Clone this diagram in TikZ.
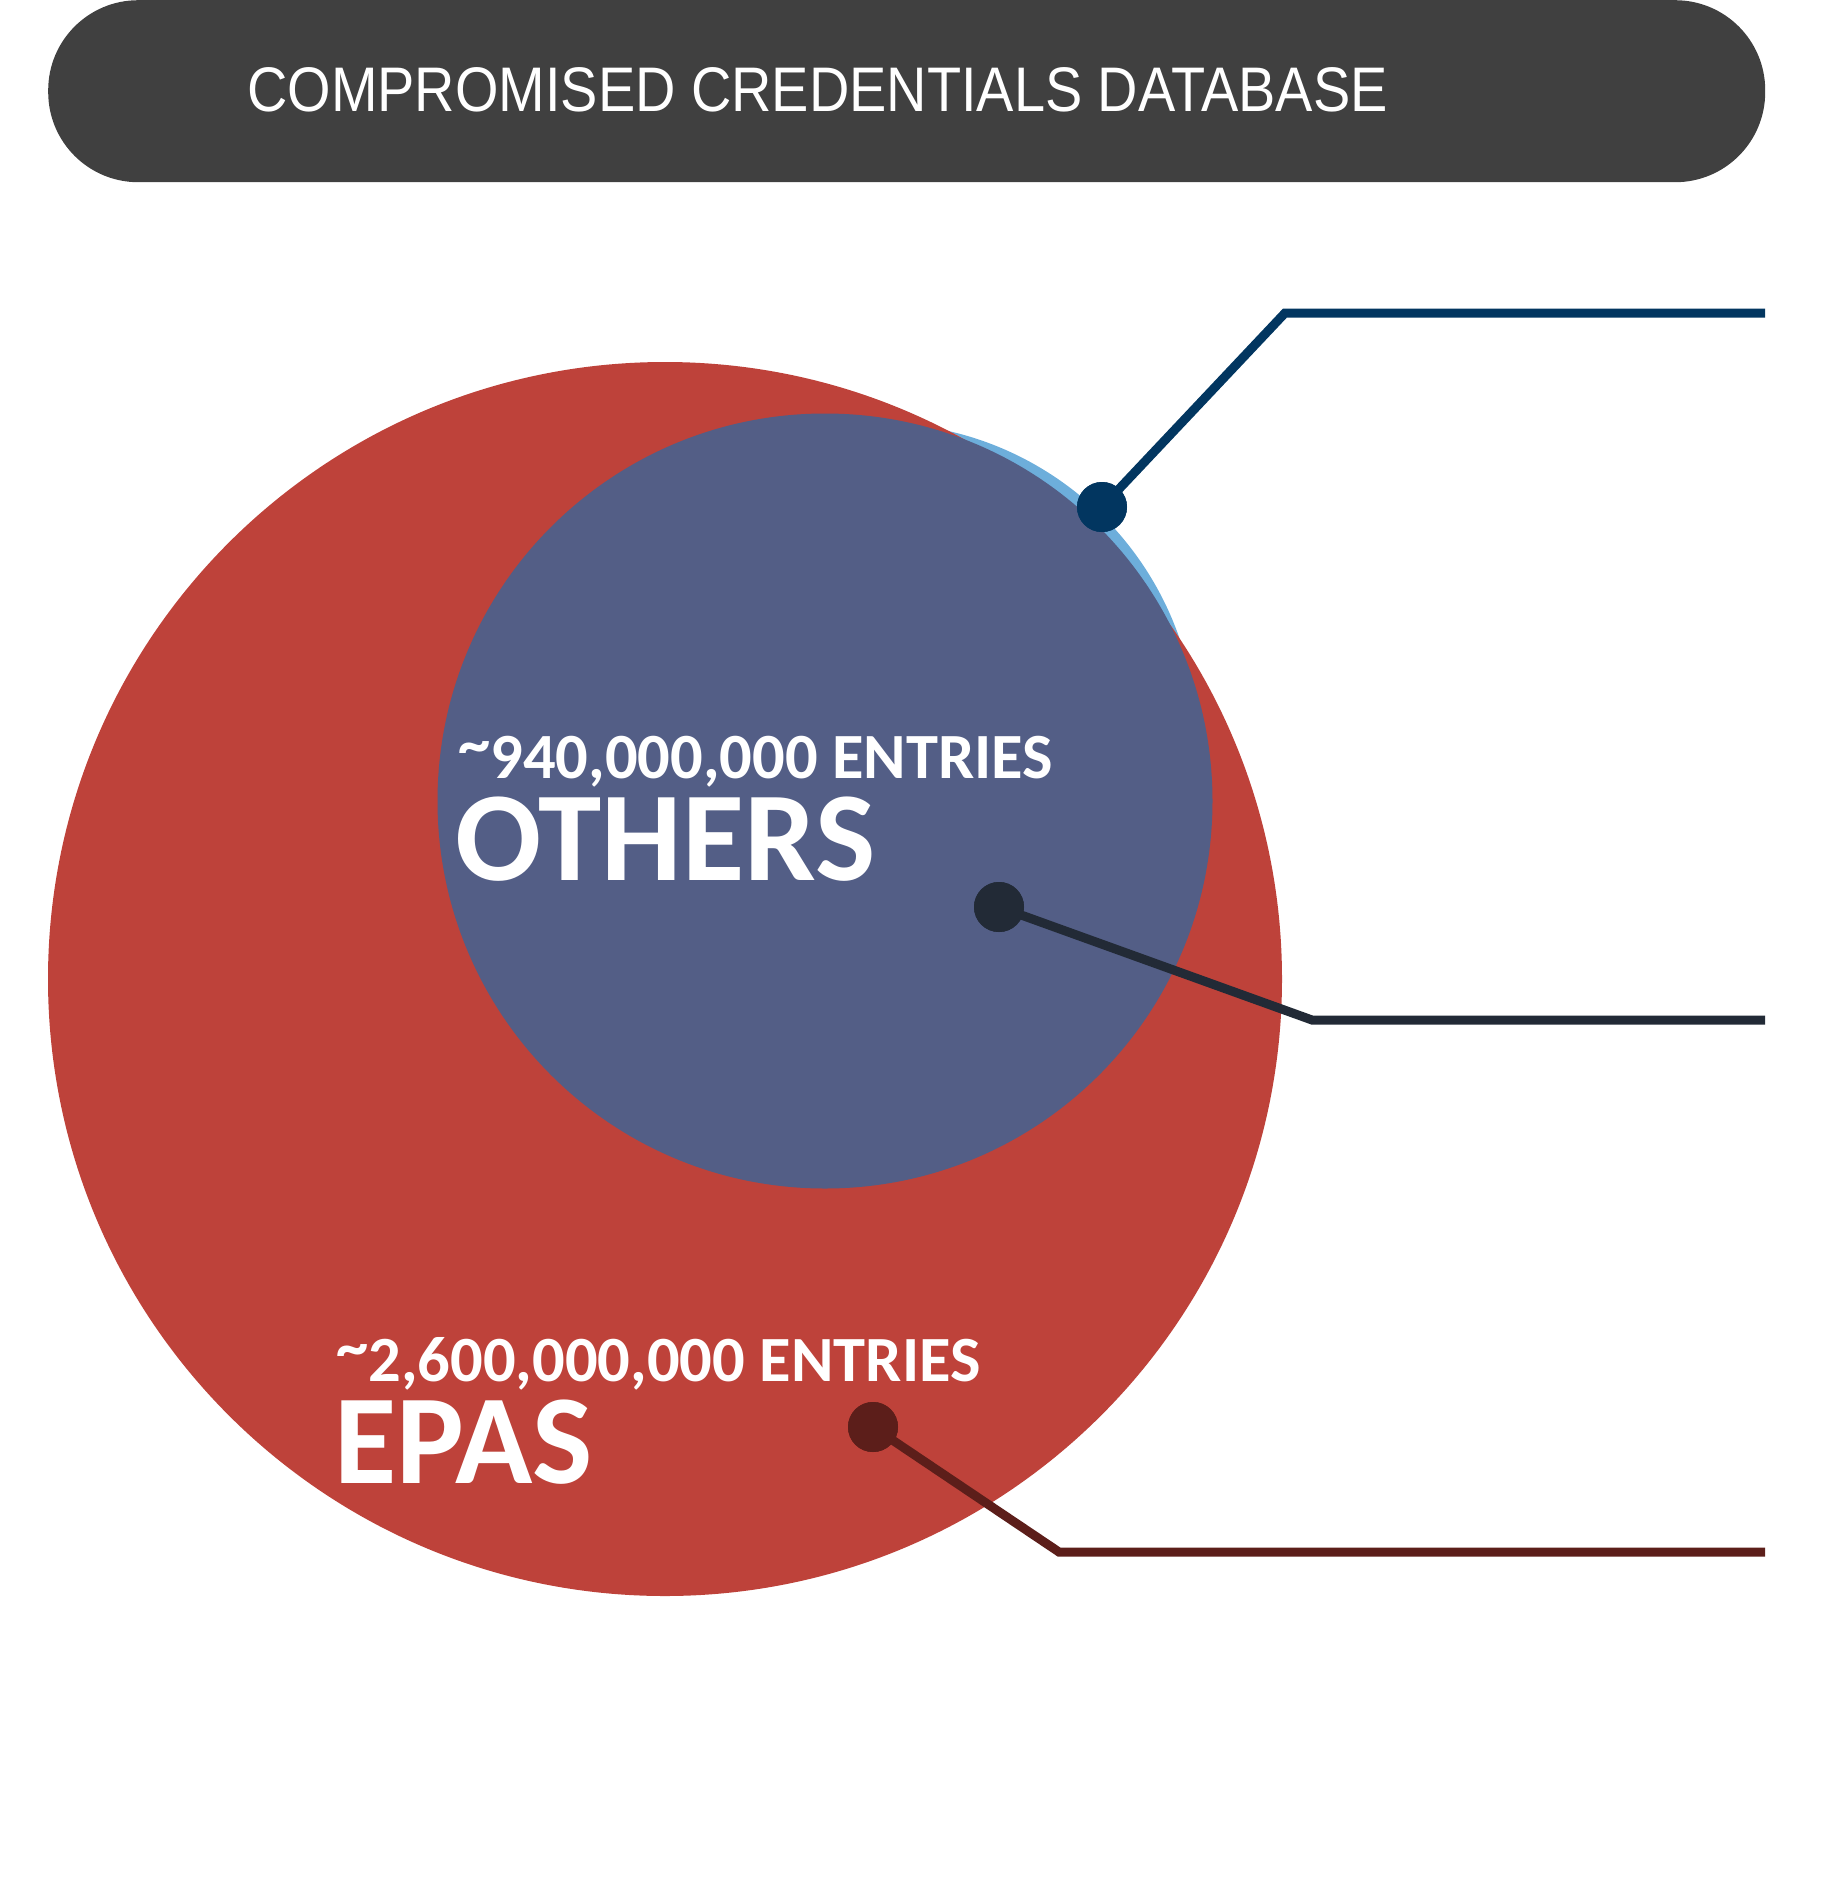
\documentclass[tikz,border=0pt]{standalone}
\usepackage{fontspec}
\setmainfont{Liberation Sans}
\newfontfamily\carlito{Carlito}
\usepackage{graphicx}
\definecolor{barc}{RGB}{64,64,64}
\definecolor{redc}{RGB}{190,66,58}
\definecolor{slatec}{RGB}{83,94,134}
\definecolor{skyc}{RGB}{109,174,219}
\definecolor{navyc}{RGB}{2,54,96}
\definecolor{inkc}{RGB}{34,42,54}
\definecolor{maroonc}{RGB}{92,30,26}
\newcommand{\hitilde}{\raisebox{13pt}{\textasciitilde}}
\tikzset{
  disc/.style={circle, inner sep=0pt, draw=none},
  dotc/.style={circle, inner sep=0pt, minimum size=50pt, draw=none},
  lead/.style={line width=9pt, line join=miter},
  smalltxt/.style={anchor=base west, inner sep=0pt, text=white, font=\carlito\bfseries\fontsize{64.5}{70}\selectfont},
  bigtxt/.style={anchor=base west, inner sep=0pt, text=white, font=\carlito\bfseries\fontsize{127.5}{130}\selectfont},
}
\begin{document}
\begin{tikzpicture}[x=1pt,y=-1pt]
\useasboundingbox (0,0) rectangle (1834,1896);
% title bar
\node[fill=barc, rounded corners=90pt, minimum width=1717pt, minimum height=182pt, inner sep=0pt, anchor=north west] (bar) at (48,0) {};
\node[anchor=base west, inner sep=0pt, text=white] (title) at (247,111)
  {\scalebox{0.887}[1]{\fontsize{63}{70}\selectfont COMPROMISED CREDENTIALS DATABASE}};
% circles
\node[disc, fill=skyc, minimum size=640pt] (sky) at (877,743) {};
\node[disc, fill=redc, minimum size=1234pt] (epas) at (665,979) {};
\node[disc, fill=slatec, minimum size=775pt] (others) at (825,801) {};
% texts
\node[smalltxt] (otherscount) at (458,778) {\hitilde 940,000,000 ENTRIES};
\node[bigtxt] (otherslabel) at (455,880) {OTHERS};
\node[smalltxt] (epascount) at (336,1381) {\hitilde 2,600,000,000 ENTRIES};
\node[bigtxt] (epaslabel) at (334,1483) {EPAS};
% dots
\node[dotc, fill=navyc] (d1) at (1102,507) {};
\node[dotc, fill=inkc] (d2) at (999,907) {};
\node[dotc, fill=maroonc] (d3) at (873,1427) {};
\coordinate (k1) at (1285,313);
\coordinate (e1) at (1765,313);
\coordinate (k2) at (1312,1020);
\coordinate (e2) at (1765,1020);
\coordinate (k3) at (1059,1552);
\coordinate (e3) at (1765,1552);
% leaders
\draw[lead, navyc] (d1.center) -- (k1) -- (e1);
\draw[lead, inkc] (d2.center) -- (k2) -- (e2);
\draw[lead, maroonc] (d3.center) -- (k3) -- (e3);
\node[dotc, fill=navyc] at (d1) {};
\node[dotc, fill=inkc] at (d2) {};
\node[dotc, fill=maroonc] at (d3) {};
\end{tikzpicture}
\end{document}
